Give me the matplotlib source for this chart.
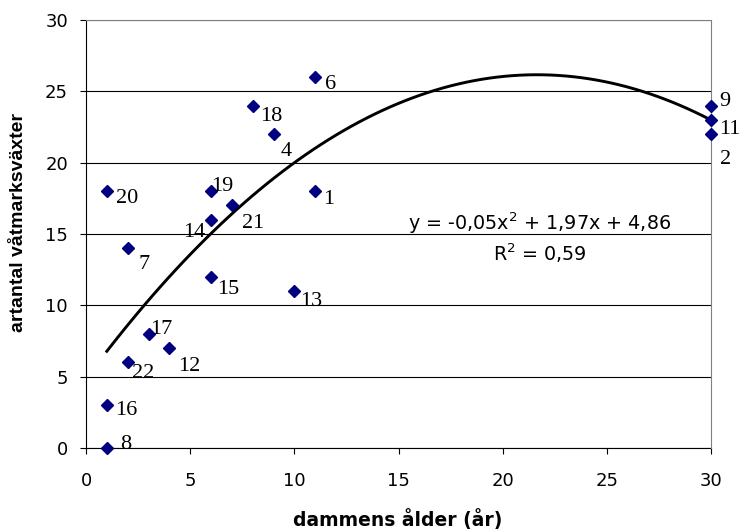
import numpy as np
import matplotlib
matplotlib.use("Agg")
import matplotlib.pyplot as plt

# Data: dammens ålder (år) och antal våtmarksväxter, med dammnummer
alder = [1, 1, 2, 3, 4, 1, 2, 6, 6, 6, 7, 8, 9, 10, 11, 11, 30, 30, 30]
arter = [0, 3, 6, 8, 7, 18, 14, 12, 16, 18, 17, 24, 22, 11, 26, 18, 24, 23, 22]
damm_nr = ["8", "16", "22", "17", "12", "20", "7", "15", "14", "19", "21",
           "18", "4", "13", "6", "1", "9", "11", "2"]

x_ticks = [0, 5, 10, 15, 20, 25, 30]
y_ticks = [0, 5, 10, 15, 20, 25, 30]

eq_line1 = "y = -0,05x$^{2}$ + 1,97x + 4,86"
eq_line2 = "R$^{2}$ = 0,59"

# label offsets in pixels (dx, dy to baseline, ha) per dammnummer
label_off = {
    "8": (13, -1, "left"), "16": (8, -10, "left"), "22": (4, -16, "left"),
    "17": (2, 0, "left"), "12": (9, -23, "left"), "20": (9, -12, "left"),
    "7": (11, -21, "left"), "15": (6, -17, "left"), "14": (-6, -17, "right"),
    "19": (0, 0, "left"), "21": (10, -23, "left"), "18": (7, -15, "left"),
    "4": (7, -22, "left"), "13": (6, -15, "left"), "6": (10, -12, "left"),
    "1": (8, -13, "left"), "9": (8, 0, "left"), "11": (8, -14, "left"),
    "2": (9, -30, "left"),
}

fig = plt.figure(figsize=(7.44, 5.31), dpi=100)
ax = fig.add_axes([86 / 744, 1 - 448 / 531, 625 / 744, 428 / 531])

# polynomtrend (andragrad) som i Excel
coef = np.polyfit(alder, arter, 2)
xt = np.linspace(min(alder), max(alder), 80)
ax.plot(xt, np.polyval(coef, xt), color="black", lw=2.1, zorder=3)

ax.plot(alder, arter, linestyle="none", marker="D", markersize=6.3,
        color="#000080", zorder=4, clip_on=False)

for xi, yi, lab in zip(alder, arter, damm_nr):
    dx, dy, ha = label_off[lab]
    ax.annotate(lab, (xi, yi), xytext=(dx, dy), textcoords="offset pixels",
                ha=ha, va="baseline", fontsize=16, family="Liberation Serif",
                color="black", annotation_clip=False, zorder=5)

ax.text(21.75, 15.28, eq_line1, ha="center", va="baseline", fontsize=13.8,
        family="DejaVu Sans", zorder=5)
ax.text(21.75, 13.1, eq_line2, ha="center", va="baseline", fontsize=13.8,
        family="DejaVu Sans", zorder=5)

ax.set_xlim(0, 30)
ax.set_ylim(0, 30)
ax.set_xticks(x_ticks)
ax.set_yticks(y_ticks)
ax.tick_params(axis="both", direction="out", length=4.3, width=0.8,
               labelsize=13, colors="black")
ax.tick_params(axis="x", pad=13)
ax.tick_params(axis="y", pad=8.6)

ax.yaxis.grid(True, color="black", lw=0.8)
ax.set_axisbelow(True)
for side in ["left", "bottom"]:
    ax.spines[side].set_color("black")
    ax.spines[side].set_linewidth(0.8)
for side in ["top", "right"]:
    ax.spines[side].set_color("#808080")
    ax.spines[side].set_linewidth(0.8)
    ax.spines[side].set_zorder(2.6)

fig.text(398 / 744, 1 - 526 / 531, "dammens ålder (år)", ha="center",
         va="baseline", fontsize=13.5, fontweight="bold", family="DejaVu Sans")
fig.text(19 / 744, 1 - 222.5 / 531, "artantal våtmarksväxter", ha="center",
         va="center", rotation=90, fontsize=14, fontweight="bold",
         family="Liberation Sans")

fig.savefig("out.png", dpi=100)
